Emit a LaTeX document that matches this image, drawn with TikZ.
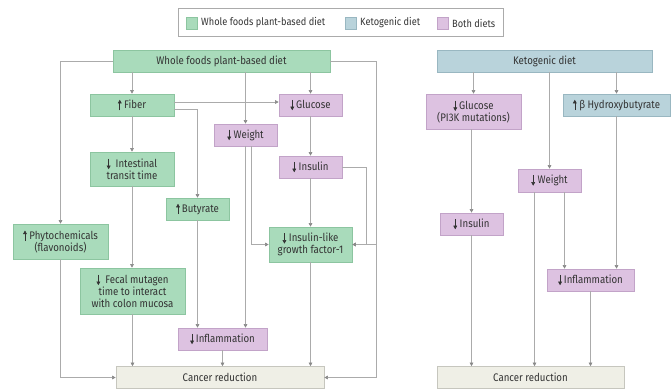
\documentclass[tikz,border=0pt]{standalone}
\usepackage{fontspec}
\setmainfont[FakeStretch=0.88]{Fira Sans}
\usetikzlibrary{arrows.meta,calc}
\definecolor{gfill}{HTML}{A9DBBB}
\definecolor{gdraw}{HTML}{8CC5A0}
\definecolor{bfill}{HTML}{B9D3DB}
\definecolor{bdraw}{HTML}{99B7C1}
\definecolor{pfill}{HTML}{DDC2E1}
\definecolor{pdraw}{HTML}{C2A3C8}
\definecolor{cfill}{HTML}{EFEFE6}
\definecolor{cdraw}{HTML}{C6C6BE}
\definecolor{lcol}{HTML}{ABABAB}
\definecolor{tcol}{HTML}{333333}
\definecolor{acol}{HTML}{8A8A8A}
\newcommand\dnar{\tikz[baseline=0pt]\draw[tcol,line width=0.6pt,-{Triangle[length=3.6pt,width=3.8pt]}] (0,8.5pt)--(0,-2pt);}
\newcommand\upar{\tikz[baseline=0pt]\draw[tcol,line width=0.6pt,-{Triangle[length=3.6pt,width=3.8pt]}] (0,-2pt)--(0,8.5pt);}
\tikzset{
  box/.style={rectangle,inner sep=0pt,line width=0.6pt,text=tcol,align=center,
     font=\fontsize{11}{12.2}\selectfont},
  gbox/.style={box,fill=gfill,draw=gdraw},
  bbox/.style={box,fill=bfill,draw=bdraw},
  pbox/.style={box,fill=pfill,draw=pdraw},
  cbox/.style={box,fill=cfill,draw=cdraw},
  conn/.style={draw=lcol,line width=0.6pt,-{Triangle[length=3.6pt,width=3.6pt,color=acol]}},
  lab/.style={text=tcol,inner sep=0pt,anchor=west,font=\fontsize{10.5}{12}\selectfont},
  sw/.style={minimum width=11pt,minimum height=12pt,inner sep=0pt,line width=0.6pt},
}
\begin{document}
\begin{tikzpicture}[x=1pt,y=-1pt]
\useasboundingbox (0,0) rectangle (671,389);
% legend
\node[draw=lcol,line width=0.6pt,minimum width=325pt,minimum height=28pt,inner sep=0pt] (legend) at (340.5,22) {};
\node[sw,fill=gfill,draw=gdraw] (sg) at (191.5,23) {};
\node[lab] (lg) at (201,23) {Whole foods plant-based diet};
\node[sw,fill=bfill,draw=bdraw] (sb) at (350.5,23) {};
\node[lab] (lb) at (360,23) {Ketogenic diet};
\node[sw,fill=pfill,draw=pdraw] (sp) at (442.5,23) {};
\node[lab] (lp) at (452,23) {Both diets};
% left nodes
\node[gbox,minimum width=217pt,minimum height=22pt] (top) at (221.5,61) {Whole foods plant-based diet};
\node[gbox,minimum width=84pt,minimum height=22pt] (fiber) at (132,105) {\upar\ Fiber};
\node[pbox,minimum width=63pt,minimum height=22pt] (glucL) at (310.5,105) {\dnar\hspace{2pt}Glucose};
\node[pbox,minimum width=63pt,minimum height=22pt] (weightL) at (245.5,135) {\dnar\ Weight};
\node[pbox,minimum width=63pt,minimum height=22pt] (insulinL) at (310.5,167) {\dnar\ Insulin};
\node[gbox,minimum width=84pt,minimum height=34pt] (intest) at (132,169) {\dnar\ \ Intestinal\\transit time};
\node[gbox,minimum width=63pt,minimum height=22pt] (buty) at (197.5,209) {\upar\hspace{2pt}Butyrate};
\node[gbox,minimum width=95pt,minimum height=35pt] (phyto) at (60.5,241.5) {\upar\ Phytochemicals\\(flavonoids)};
\node[gbox,minimum width=105pt,minimum height=46pt] (fecal) at (132.5,291) {\dnar\ \ Fecal mutagen\\time to interact\\with colon mucosa};
\node[gbox,minimum width=83pt,minimum height=35pt] (igf) at (310.5,244.5) {\dnar\ Insulin-like\\growth factor-1};
\node[pbox,minimum width=89pt,minimum height=22pt] (inflL) at (222.5,339) {\dnar\hspace{2pt}Inflammation};
\node[cbox,minimum width=208pt,minimum height=22pt] (cancerL) at (220,377.5) {Cancer reduction};
% right nodes
\node[bbox,minimum width=215pt,minimum height=22pt] (keto) at (544.5,61) {Ketogenic diet};
\node[pbox,minimum width=95pt,minimum height=35pt] (glucR) at (473.5,111.5) {\dnar\hspace{2pt}Glucose\\(PI3K mutations)};
\node[bbox,minimum width=107pt,minimum height=22pt] (bhb) at (616.5,105) {\upar\ β Hydroxybutyrate};
\node[pbox,minimum width=63pt,minimum height=23pt] (weightR) at (549.5,180.5) {\dnar\ Weight};
\node[pbox,minimum width=63pt,minimum height=22pt] (insulinR) at (471.5,224) {\dnar\ Insulin};
\node[pbox,minimum width=87pt,minimum height=22pt] (inflR) at (590.5,280) {\dnar\hspace{2pt}Inflammation};
\node[cbox,minimum width=187pt,minimum height=22pt] (cancerR) at (530.5,377.5) {Cancer reduction};
% helper coordinates
\coordinate (rx) at (376,0);
\coordinate (rx2) at (366,0);
\coordinate (wl) at ([xshift=6pt]weightL.south);
\coordinate (wr1) at ([xshift=-15pt]weightR.south);
\coordinate (wr2) at ([xshift=15pt]weightR.south);
% left connectors
\draw[conn] (top.south -| fiber.north) -- (fiber.north);
\draw[conn] (top.south -| weightL.north) -- (weightL.north);
\draw[conn] (top.south -| glucL.north) -- (glucL.north);
\draw[conn] (top.west) -| (phyto.north);
\draw[conn] (top.east) -| (rx |- cancerL.east) -- (cancerL.east);
\draw[conn] (top.east) -| (rx |- igf.east) -- (igf.east);
\draw[conn] (insulinL.east) -| (rx2 |- igf.east) -- (igf.east);
\draw[conn] ([yshift=3pt]fiber.east) -- ([yshift=3pt]glucL.west);
\draw[conn] ([yshift=-4pt]fiber.east) -| (buty.north);
\draw[conn] (fiber.south) -- (intest.north);
\draw[conn] (intest.south) -- (intest.south |- fecal.north);
\draw[conn] (fecal.south) -- (fecal.south |- cancerL.north);
\draw[conn] (phyto.south) |- (cancerL.west);
\draw[conn] (buty.south) -- (buty.south |- inflL.north);
\draw[conn] (weightL.south) -- (weightL.south |- inflL.north);
\draw[conn] (wl) |- (igf.west);
\draw[conn] (glucL.south) -- (insulinL.north);
\draw[conn] (insulinL.south) -- (igf.north);
\draw[conn] (igf.south) -- (igf.south |- cancerL.north);
\draw[conn] (inflL.south) -- (inflL.south |- cancerL.north);
% right connectors
\draw[conn] (keto.south -| glucR.north) -- (glucR.north);
\draw[conn] (keto.south -| weightR.north) -- (weightR.north);
\draw[conn] (keto.south -| bhb.north) -- (bhb.north);
\draw[conn] (insulinR.north |- glucR.south) -- (insulinR.north);
\draw[conn] (insulinR.south) -- (insulinR.south |- cancerR.north);
\draw[conn] (wr1) -- (wr1 |- cancerR.north);
\draw[conn] (wr2) -- (wr2 |- inflR.north);
\draw[conn] (bhb.south) -- (bhb.south |- inflR.north);
\draw[conn] (inflR.south) -- (inflR.south |- cancerR.north);
\end{tikzpicture}
\end{document}
